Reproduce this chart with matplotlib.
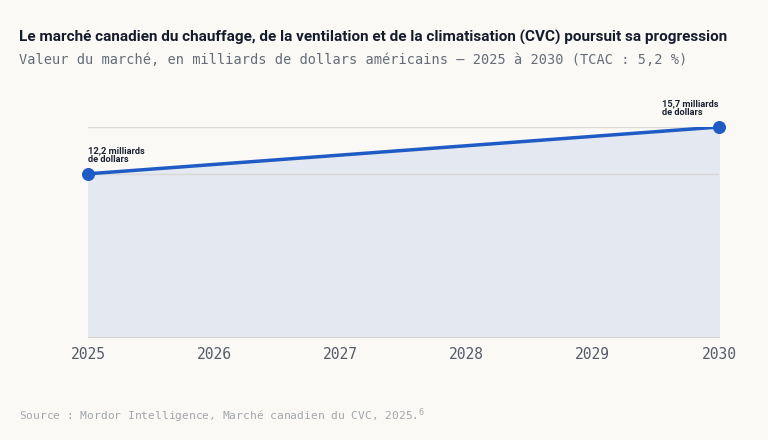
import matplotlib.pyplot as plt

# 데이터
years = [2025, 2030]
values = [12.2, 15.7]
year_ticks = [2025, 2026, 2027, 2028, 2029, 2030]
labels = ["12,2 milliards\nde dollars", "15,7 milliards\nde dollars"]

bg = "#faf9f6"
line_col = "#1f5bc4"
bold_font = ["Roboto", "DejaVu Sans"]

fig = plt.figure(figsize=(7.68, 4.4), dpi=100, facecolor=bg)
ax = fig.add_axes([88 / 768, 1 - 337 / 440, (719 - 88) / 768, (337 - 127) / 440])
ax.set_facecolor(bg)

ax.fill_between(years, values, 0, color="#e4e8f0", zorder=1)
for v in values:
    ax.axhline(v, color="#d9d8d4", lw=1, zorder=1.5)
ax.plot(years, values, color=line_col, lw=2.5, zorder=3, solid_capstyle="round")
ax.scatter(years, values, s=70, color=line_col, zorder=4, clip_on=False)

ax.text(years[0], values[0] + 0.75, labels[0], fontsize=6.7, fontweight="bold",
        family=bold_font, color="#1b2230", ha="left", va="bottom", linespacing=0.95)
ax.text(years[1] - 0.455, values[1] + 0.75, labels[1], fontsize=6.7, fontweight="bold",
        family=bold_font, color="#1b2230", ha="left", va="bottom", linespacing=0.95)

ax.set_xlim(2025, 2030)
ax.set_ylim(0, 15.7)
ax.set_xticks(year_ticks)
ax.set_xticklabels([str(y) for y in year_ticks], family="DejaVu Sans Mono",
                   fontsize=10.5, color="#555c67")
ax.tick_params(axis="x", length=0, pad=7)
ax.set_yticks([])
for s in ["top", "left", "right"]:
    ax.spines[s].set_visible(False)
ax.spines["bottom"].set_color("#d4d2cc")

fig.text(19 / 768, 1 - 37 / 440,
         "Le marché canadien du chauffage, de la ventilation et de la climatisation (CVC) poursuit sa progression",
         fontsize=11, fontweight="bold", family=bold_font, color="#141b2b", va="center")
fig.text(19 / 768, 1 - 60 / 440,
         "Valeur du marché, en milliards de dollars américains – 2025 à 2030 (TCAC : 5,2 %)",
         fontsize=9.8, family="DejaVu Sans Mono", color="#666d78", va="center")
fig.text(19 / 768, 1 - 416 / 440,
         "Source : Mordor Intelligence, Marché canadien du CVC, 2025.$^{6}$",
         fontsize=8.1, family="DejaVu Sans Mono", color="#a3a6ab", va="center")

fig.savefig("out.png", dpi=100, facecolor=bg)
